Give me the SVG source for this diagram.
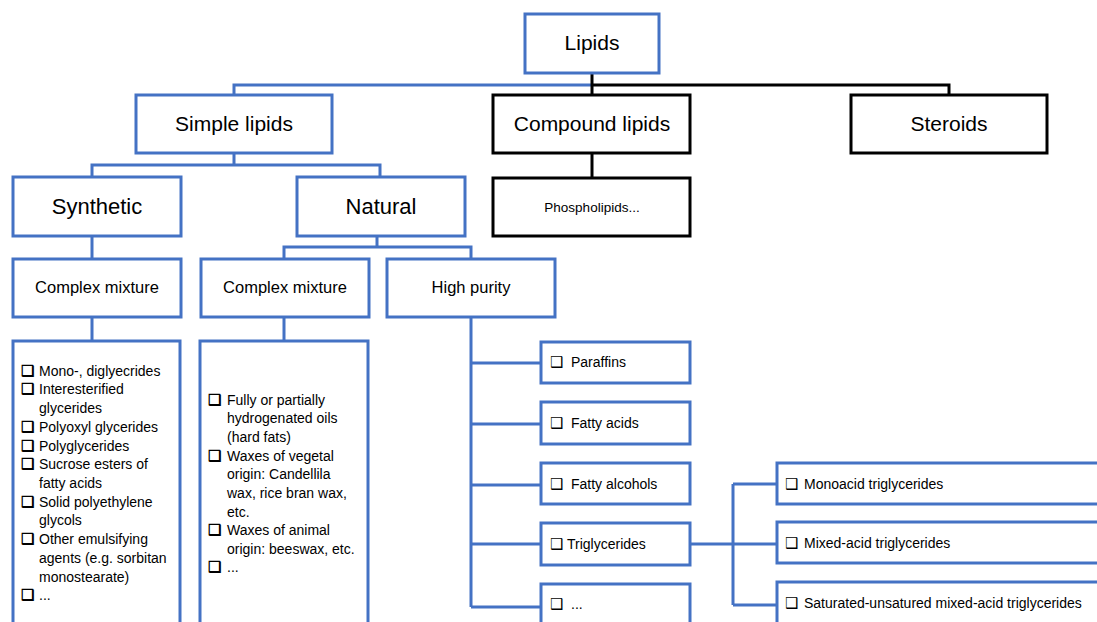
<svg xmlns="http://www.w3.org/2000/svg" width="1097" height="622" viewBox="0 0 1097 622">
<style>
.b{fill:#fff;stroke:#4472C4;stroke-width:3}
.k{fill:#fff;stroke:#000;stroke-width:3}
.cb{fill:none;stroke:#4472C4;stroke-width:3}
.ck{fill:none;stroke:#000;stroke-width:3}
text{font-family:"Liberation Sans",Arial,sans-serif;fill:#000}
.t1{font-size:21px;text-anchor:middle}
.t2{font-size:22px;text-anchor:middle}
.t3{font-size:16.5px;text-anchor:middle}
.s{font-size:14px}
.bx{font-family:"DejaVu Sans",sans-serif;font-size:15px;font-weight:bold}
</style>
<rect width="1097" height="622" fill="#fff"/>
<g id="connectors">
<path class="cb" d="M234 95V85H592"/>
<path class="ck" d="M592 73V95M592 85H949V95"/>
<path class="ck" d="M592 153V178"/>
<path class="cb" d="M234 153V165M92 177V165H380V177"/>
<path class="cb" d="M92 236V259"/>
<path class="cb" d="M377 236V247M284 258V247H471V258"/>
<path class="cb" d="M92 317V341M284 317V341"/>
<path class="cb" d="M471 317V607M471 363H541M471 424H541M471 485H541M471 544H541M471 607H541"/>
<path class="cb" d="M690 544H733M733 484V605M733 484H777M733 544H777M733 605H777"/>
</g>
<g id="lipids"><rect class="b" x="525" y="14" width="134" height="59" stroke-width="2.5"/><text class="t1" x="592" y="50">Lipids</text></g>
<g id="simple"><rect class="b" x="136" y="95" width="196" height="58"/><text class="t1" x="234" y="131">Simple lipids</text></g>
<g id="compound"><rect class="k" x="493" y="95" width="197" height="58"/><text class="t1" x="592" y="131">Compound lipids</text></g>
<g id="steroids"><rect class="k" x="851" y="95" width="196" height="58"/><text class="t1" x="949" y="131">Steroids</text></g>
<g id="phospho"><rect class="k" x="493" y="178" width="197" height="58"/><text x="592" y="212" font-size="13.5" text-anchor="middle">Phospholipids...</text></g>
<g id="synthetic"><rect class="b" x="13" y="177" width="168" height="59"/><text class="t2" x="97" y="214">Synthetic</text></g>
<g id="natural"><rect class="b" x="297" y="177" width="168" height="59"/><text class="t2" x="381" y="214">Natural</text></g>
<g id="cm1"><rect class="b" x="13" y="259" width="168" height="58"/><text class="t3" x="97" y="293">Complex mixture</text></g>
<g id="cm2"><rect class="b" x="201" y="259" width="168" height="58"/><text class="t3" x="285" y="293">Complex mixture</text></g>
<g id="hp"><rect class="b" x="387" y="259" width="168" height="58"/><text class="t3" x="471" y="293">High purity</text></g>
<g id="list1"><rect class="b" x="13" y="341" width="167" height="300"/>
<g class="bx"><text x="21" y="376">❑</text><text x="21" y="394">❑</text><text x="21" y="432">❑</text><text x="21" y="451">❑</text><text x="21" y="469">❑</text><text x="21" y="507">❑</text><text x="21" y="544">❑</text><text x="21" y="600">❑</text></g>
<g class="s"><text x="39" y="376">Mono-, diglyecrides</text><text x="39" y="394">Interesterified</text><text x="39" y="413">glycerides</text><text x="39" y="432">Polyoxyl glycerides</text><text x="39" y="451">Polyglycerides</text><text x="39" y="469">Sucrose esters of</text><text x="39" y="488">fatty acids</text><text x="39" y="507">Solid polyethylene</text><text x="39" y="525">glycols</text><text x="39" y="544">Other emulsifying</text><text x="39" y="563">agents (e.g. sorbitan</text><text x="39" y="582">monostearate)</text><text x="39" y="600">...</text></g>
</g>
<g id="list2"><rect class="b" x="200" y="341" width="168" height="300"/>
<g class="bx"><text x="208" y="405">❑</text><text x="208" y="461">❑</text><text x="208" y="535">❑</text><text x="208" y="572">❑</text></g>
<g class="s"><text x="227" y="405">Fully or partially</text><text x="227" y="423">hydrogenated oils</text><text x="227" y="442">(hard fats)</text><text x="227" y="461">Waxes of vegetal</text><text x="227" y="479">origin: Candellila</text><text x="227" y="498">wax, rice bran wax,</text><text x="227" y="517">etc.</text><text x="227" y="535">Waxes of animal</text><text x="227" y="554">origin: beeswax, etc.</text><text x="227" y="572">...</text></g>
</g>
<g id="paraffins"><rect class="b" x="541" y="342" width="149" height="41"/><text class="bx" x="550" y="367">❑</text><text class="s" x="571" y="367">Paraffins</text></g>
<g id="fattyacids"><rect class="b" x="541" y="402" width="149" height="42"/><text class="bx" x="550" y="428">❑</text><text class="s" x="571" y="428">Fatty acids</text></g>
<g id="fattyalcohols"><rect class="b" x="541" y="463" width="149" height="41"/><text class="bx" x="550" y="489">❑</text><text class="s" x="571" y="489">Fatty alcohols</text></g>
<g id="triglycerides"><rect class="b" x="541" y="523" width="149" height="42"/><text class="bx" x="550" y="549">❑</text><text class="s" x="567" y="549">Triglycerides</text></g>
<g id="more"><rect class="b" x="541" y="584" width="149" height="60"/><text class="bx" x="550" y="609">❑</text><text class="s" x="571" y="609">...</text></g>
<g id="monoacid"><rect class="b" x="777" y="463" width="340" height="41"/><text class="bx" x="785" y="489">❑</text><text class="s" x="804" y="489">Monoacid triglycerides</text></g>
<g id="mixed"><rect class="b" x="777" y="522" width="340" height="41"/><text class="bx" x="785" y="548">❑</text><text class="s" x="804" y="548">Mixed-acid triglycerides</text></g>
<g id="saturated"><rect class="b" x="777" y="582" width="340" height="60"/><text class="bx" x="785" y="608">❑</text><text class="s" x="804" y="608">Saturated-unsatured  mixed-acid triglycerides</text></g>
</svg>
